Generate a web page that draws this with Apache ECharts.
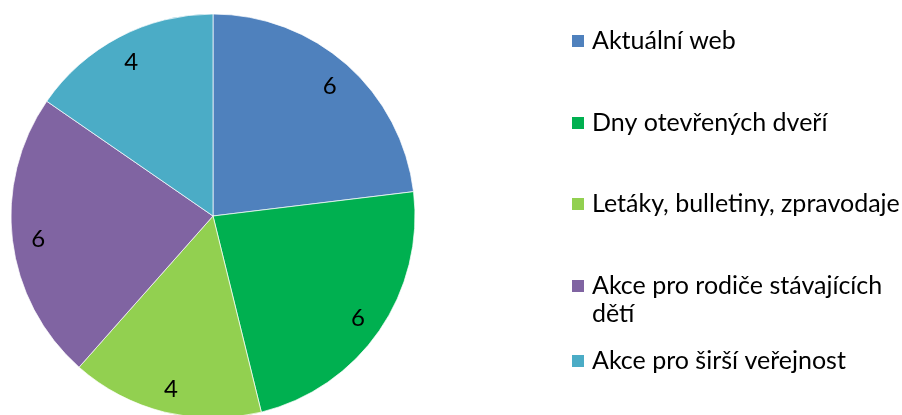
<!DOCTYPE html>
<html><head><meta charset="utf-8">
<script src="https://cdn.jsdelivr.net/npm/echarts@6/dist/echarts.min.js"></script>
<style>html,body{margin:0;padding:0;background:#fff}#c{width:902px;height:415px}</style>
</head><body><div id="c"></div>
<script>
const categories = ['Aktuální web','Dny otevřených dveří','Letáky, bulletiny, zpravodaje','Akce pro rodiče stávajících dětí','Akce pro širší veřejnost'];
const values = [6,6,4,6,4];
const colors = ['#4F81BD','#00B050','#92D050','#8064A2','#4BACC6'];

const FONT = 'Lato';
const FS = 25;
const chart = echarts.init(document.getElementById('c'), null, {renderer:'canvas'});
const data = categories.map((n,i)=>({name:n, value:values[i], itemStyle:{color:colors[i]}}));
const legendTops = [41,123,204,286,361];
const legends = categories.map((n,i)=>{
  const multi = i===3;
  return {
    data:[n], left:570, top: multi ? legendTops[i]-42 : legendTops[i]-14,
    padding:0, itemWidth:14, itemHeight:14, icon:'rect', selectedMode:false,
    textStyle:{fontFamily:FONT, fontSize:FS, color:'#000', lineHeight:28, padding:[0,0,0,2]},
    formatter: multi ? (()=>'\nAkce pro rodiče stávajících\ndětí') : undefined
  };
});
chart.setOption({
  animation:false,
  color:colors,
  legend:legends,
  series:[
    {type:'pie', center:[213,216], radius:[0,202], startAngle:90, clockwise:true,
     data:data, label:{show:false}, labelLine:{show:false},
     itemStyle:{borderColor:'#fff', borderWidth:0.7}, emphasis:{disabled:true}},
    {type:'pie', center:[213,218], radius:[144,202], startAngle:90, clockwise:true, silent:true,
     legendHoverLink:false,
     data:categories.map((n,i)=>({name:n+' ', value:values[i]})),
     itemStyle:{color:'rgba(0,0,0,0)'},
     label:{show:true, position:'inside', formatter:'{c}', fontFamily:FONT, fontSize:24, color:'#000'},
     labelLine:{show:false}, emphasis:{disabled:true}}
  ]
});
</script></body></html>
